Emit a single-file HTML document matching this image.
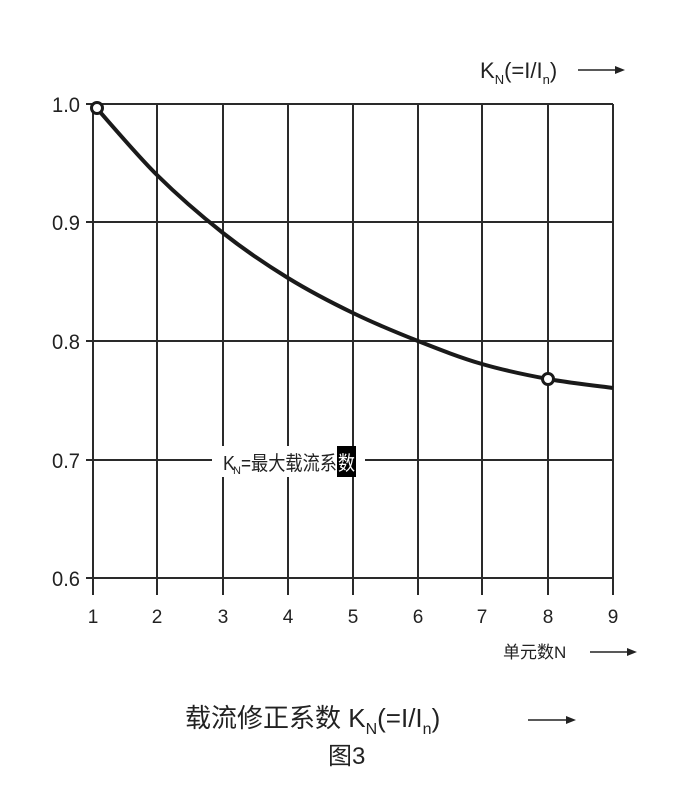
<!DOCTYPE html>
<html><head><meta charset="utf-8"><style>
body{margin:0;background:#fff;}
svg text{font-family:"Liberation Sans","Noto Sans CJK SC",sans-serif;fill:#222;}
</style></head><body>
<svg width="680" height="798" viewBox="0 0 680 798" xmlns="http://www.w3.org/2000/svg">
<g stroke="#2a2a2a" stroke-width="2">
<line x1="86" y1="104" x2="613" y2="104"/>
<line x1="86" y1="222" x2="613" y2="222"/>
<line x1="86" y1="341" x2="613" y2="341"/>
<line x1="86" y1="460" x2="613" y2="460"/>
<line x1="86" y1="578" x2="613" y2="578"/>
<line x1="93" y1="104" x2="93" y2="595"/>
<line x1="157" y1="104" x2="157" y2="595"/>
<line x1="223" y1="104" x2="223" y2="595"/>
<line x1="288" y1="104" x2="288" y2="595"/>
<line x1="353" y1="104" x2="353" y2="595"/>
<line x1="418" y1="104" x2="418" y2="595"/>
<line x1="482" y1="104" x2="482" y2="595"/>
<line x1="548" y1="104" x2="548" y2="595"/>
<line x1="613" y1="104" x2="613" y2="595"/>
</g>
<rect x="212" y="446" width="153" height="31" fill="#fff"/>
<path d="M93,104 C103.7,115.8 135.3,153.5 157,175 C178.7,196.5 201.2,215.8 223,233 C244.8,250.2 266.3,264.7 288,278 C309.7,291.3 331.3,302.5 353,313 C374.7,323.5 396.5,332.5 418,341 C439.5,349.5 460.3,357.7 482,364 C503.7,370.3 526.2,375 548,379 C569.8,383 602.2,386.5 613,388" fill="none" stroke="#1a1a1a" stroke-width="4"/>
<circle cx="97" cy="108" r="5.5" fill="#fff" stroke="#1a1a1a" stroke-width="3"/>
<circle cx="548" cy="379" r="5.5" fill="#fff" stroke="#1a1a1a" stroke-width="3"/>
<g font-size="21" text-anchor="end">
<text x="80" y="112" textLength="28" lengthAdjust="spacingAndGlyphs">1.0</text>
<text x="80" y="230" textLength="28" lengthAdjust="spacingAndGlyphs">0.9</text>
<text x="80" y="349" textLength="28" lengthAdjust="spacingAndGlyphs">0.8</text>
<text x="80" y="468" textLength="28" lengthAdjust="spacingAndGlyphs">0.7</text>
<text x="80" y="586" textLength="28" lengthAdjust="spacingAndGlyphs">0.6</text>
</g>
<g font-size="19" text-anchor="middle">
<text x="93" y="623">1</text><text x="157" y="623">2</text><text x="223" y="623">3</text>
<text x="288" y="623">4</text><text x="353" y="623">5</text><text x="418" y="623">6</text>
<text x="482" y="623">7</text><text x="548" y="623">8</text><text x="613" y="623">9</text>
</g>
<text x="503" y="658" font-size="17">单元数N</text>
<line x1="590" y1="652" x2="630" y2="652" stroke="#222" stroke-width="1.5"/>
<polygon points="637,652 627,648 627,656" fill="#222"/>
<text x="480" y="78" font-size="22">K<tspan font-size="13" dy="6">N</tspan><tspan dy="-6">(=I/I</tspan><tspan font-size="13" dy="6">n</tspan><tspan dy="-6">)</tspan></text>
<line x1="578" y1="70" x2="618" y2="70" stroke="#222" stroke-width="1.5"/>
<polygon points="625,70 615,66 615,74" fill="#222"/>
<rect x="337" y="446" width="19" height="31" fill="#000"/>
<text x="223" y="470" font-size="20" textLength="12" lengthAdjust="spacingAndGlyphs">K</text>
<text x="233" y="474" font-size="11">N</text>
<text x="241" y="470" font-size="20" textLength="96" lengthAdjust="spacingAndGlyphs">=最大载流系</text>
<text x="338" y="470" font-size="20" style="fill:#fff" textLength="17" lengthAdjust="spacingAndGlyphs">数</text>
<text x="185" y="727" font-size="26" font-family="'Noto Serif CJK SC',serif">载流修正系数 <tspan font-family="'Liberation Sans',sans-serif">K<tspan font-size="16" dy="7">N</tspan><tspan dy="-7">(=I/I</tspan><tspan font-size="16" dy="7">n</tspan><tspan dy="-7">)</tspan></tspan></text>
<line x1="528" y1="720" x2="568" y2="720" stroke="#222" stroke-width="1.5"/>
<polygon points="576,720 566,716 566,724" fill="#222"/>
<text x="328" y="764" font-size="24" font-family="'Noto Serif CJK SC',serif">图3</text>
</svg>
</body></html>
